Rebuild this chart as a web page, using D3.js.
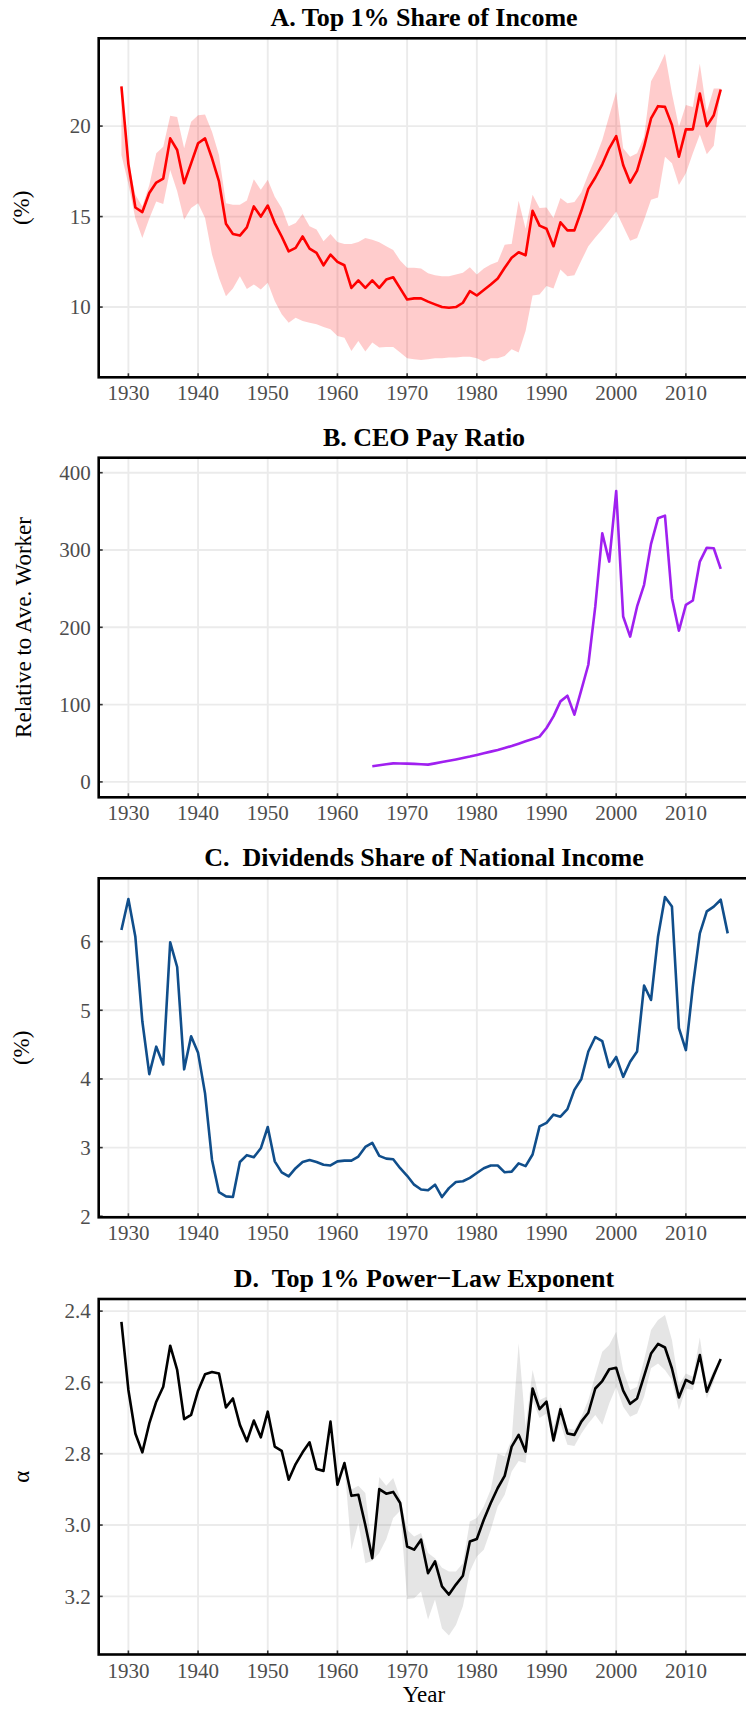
<!DOCTYPE html>
<html>
<head>
<meta charset="utf-8">
<script src="https://cdn.jsdelivr.net/npm/d3@7"></script>
<style>
  body { margin: 0; background: #fff; }
  svg { display: block; }
  text { font-family: "Liberation Serif", "Times New Roman", serif; }
</style>
</head>
<body>
<svg id="chart" width="746" height="1709"></svg>
<script>
// ---------------- DATA ----------------
const yearsA = [1929,1930,1931,1932,1933,1934,1935,1936,1937,1938,1939,1940,1941,1942,1943,1944,1945,1946,1947,1948,1949,1950,1951,1952,1953,1954,1955,1956,1957,1958,1959,1960,1961,1962,1963,1964,1965,1966,1967,1968,1969,1970,1971,1972,1973,1974,1975,1976,1977,1978,1979,1980,1981,1982,1983,1984,1985,1986,1987,1988,1989,1990,1991,1992,1993,1994,1995,1996,1997,1998,1999,2000,2001,2002,2003,2004,2005,2006,2007,2008,2009,2010,2011,2012,2013,2014,2015];
const top1Share = [22.2,17.9,15.5,15.25,16.3,16.88,17.1,19.32,18.68,16.84,17.94,19.05,19.32,18.22,16.94,14.6,14.04,13.95,14.4,15.56,15.0,15.61,14.64,13.9,13.08,13.27,13.9,13.23,12.99,12.31,12.9,12.5,12.31,11.06,11.47,11.06,11.47,11.06,11.52,11.65,11.03,10.42,10.48,10.48,10.3,10.15,10.0,9.96,10.0,10.24,10.88,10.64,10.94,11.25,11.58,12.17,12.72,13.03,12.86,15.32,14.5,14.33,13.36,14.68,14.24,14.24,15.32,16.53,17.16,17.89,18.77,19.45,17.85,16.88,17.54,18.86,20.42,21.1,21.06,20.06,18.31,19.82,19.82,21.8,20.0,20.6,22.02];
const top1Upper = [22.3,18.0,16.2,15.56,16.75,18.5,18.86,20.57,20.5,18.77,20.24,20.6,20.64,19.69,18.4,15.74,15.65,15.65,15.89,17.06,16.48,17.03,16.1,15.47,14.46,14.64,15.14,14.46,14.28,13.63,14.04,13.6,13.49,13.49,13.6,13.82,13.72,13.58,13.36,13.16,12.57,12.17,12.17,12.13,11.87,11.76,11.7,11.7,11.8,11.89,12.2,11.8,12.13,12.35,12.5,13.45,13.49,15.87,14.33,16.2,15.47,15.5,14.92,16.02,15.74,15.8,16.35,17.34,18.22,19.23,20.57,21.89,18.77,18.31,18.5,19.41,22.48,23.17,24.0,21.8,19.96,21.16,21.06,23.45,20.79,22.07,22.07];
const top1Lower = [18.4,16.8,14.9,13.82,14.9,15.83,15.7,17.58,16.4,14.83,15.47,15.74,14.92,12.9,11.61,10.6,11.03,11.7,11.0,11.25,10.97,11.34,10.33,9.6,9.14,9.41,9.23,9.14,9.05,8.9,8.77,8.4,8.31,7.58,8.13,7.54,8.04,7.76,7.8,7.8,7.49,7.17,7.12,7.08,7.12,7.17,7.17,7.21,7.21,7.25,7.25,7.17,6.99,7.17,7.17,7.3,7.67,7.49,8.68,10.64,10.7,11.16,11.03,12.07,11.7,11.76,12.57,13.36,13.85,14.28,14.77,15.28,14.46,13.67,13.82,14.83,15.93,16.06,18.31,17.94,16.75,17.39,18.5,19.54,18.44,18.92,21.98];

const yearsB = [1965,1966,1967,1968,1969,1970,1971,1972,1973,1974,1975,1976,1977,1978,1979,1980,1981,1982,1983,1984,1985,1986,1987,1988,1989,1990,1991,1992,1993,1994,1995,1996,1997,1998,1999,2000,2001,2002,2003,2004,2005,2006,2007,2008,2009,2010,2011,2012,2013,2014,2015];
const ceoRatio = [20.2,21.5,22.8,24.0,23.8,23.6,23.3,22.8,22.4,24.0,25.8,27.4,29.1,31.0,32.8,34.9,37.0,39.2,41.4,43.9,46.5,49.5,52.5,55.5,58.6,69.8,84.8,104.2,111.5,87.0,119.0,151.6,227.0,321.6,285.0,376.3,214.0,188.0,227.0,255.0,307.9,341.0,344.5,237.7,195.5,229.0,234.7,285.0,303.0,302.3,275.6];

const yearsC = [1929,1930,1931,1932,1933,1934,1935,1936,1937,1938,1939,1940,1941,1942,1943,1944,1945,1946,1947,1948,1949,1950,1951,1952,1953,1954,1955,1956,1957,1958,1959,1960,1961,1962,1963,1964,1965,1966,1967,1968,1969,1970,1971,1972,1973,1974,1975,1976,1977,1978,1979,1980,1981,1982,1983,1984,1985,1986,1987,1988,1989,1990,1991,1992,1993,1994,1995,1996,1997,1998,1999,2000,2001,2002,2003,2004,2005,2006,2007,2008,2009,2010,2011,2012,2013,2014,2015,2016];
const dividendShare = [6.17,6.62,6.07,4.84,4.07,4.47,4.21,5.99,5.63,4.14,4.62,4.38,3.79,2.82,2.35,2.29,2.28,2.79,2.89,2.86,2.99,3.30,2.80,2.64,2.58,2.70,2.79,2.82,2.79,2.75,2.74,2.80,2.81,2.81,2.87,3.01,3.07,2.88,2.84,2.83,2.70,2.59,2.46,2.39,2.38,2.46,2.28,2.41,2.50,2.51,2.56,2.63,2.70,2.74,2.74,2.64,2.65,2.77,2.73,2.90,3.31,3.36,3.48,3.45,3.56,3.84,4.00,4.40,4.61,4.55,4.17,4.32,4.03,4.25,4.40,5.36,5.15,6.07,6.65,6.51,4.74,4.42,5.35,6.12,6.44,6.51,6.61,6.12];

const yearsD = yearsA;
const alphaExp = [2.43,2.621,2.743,2.796,2.715,2.654,2.612,2.497,2.565,2.703,2.691,2.623,2.577,2.571,2.575,2.670,2.645,2.719,2.765,2.707,2.754,2.682,2.78,2.792,2.873,2.829,2.796,2.768,2.843,2.848,2.71,2.887,2.826,2.918,2.915,3.0,3.093,2.899,2.912,2.907,2.938,3.06,3.069,3.041,3.135,3.102,3.172,3.195,3.167,3.142,3.046,3.039,2.985,2.938,2.896,2.862,2.78,2.747,2.794,2.617,2.675,2.654,2.763,2.675,2.743,2.747,2.71,2.685,2.617,2.596,2.563,2.559,2.623,2.66,2.645,2.582,2.519,2.492,2.502,2.561,2.642,2.593,2.603,2.523,2.626,2.579,2.534];
const yearsDBand = [1960,1961,1962,1963,1964,1965,1966,1967,1968,1969,1970,1971,1972,1973,1974,1975,1976,1977,1978,1979,1980,1981,1982,1983,1984,1985,1986,1987,1988,1989,1990,1991,1992,1993,1994,1995,1996,1997,1998,1999,2000,2001,2002,2003,2004,2005,2006,2007,2008,2009,2010,2011,2012,2013,2014,2015];
const alphaLow = [2.887,2.82,2.9,2.89,2.91,3.075,2.865,2.89,2.868,2.925,3.013,3.032,3.022,3.078,3.093,3.12,3.13,3.13,3.107,2.99,2.98,2.948,2.9,2.8,2.807,2.76,2.49,2.724,2.565,2.649,2.64,2.724,2.659,2.729,2.733,2.696,2.649,2.58,2.514,2.495,2.458,2.565,2.621,2.612,2.537,2.453,2.425,2.411,2.481,2.607,2.575,2.584,2.474,2.607,2.565,2.534];
const alphaHigh = [2.887,2.83,3.069,2.994,3.107,3.1,3.078,3.04,2.98,2.96,3.207,3.205,3.186,3.265,3.209,3.29,3.31,3.28,3.228,3.13,3.088,3.069,3.013,2.948,2.915,2.85,2.82,2.826,2.649,2.7,2.687,2.771,2.715,2.775,2.778,2.743,2.715,2.691,2.719,2.659,2.612,2.668,2.696,2.687,2.64,2.56,2.547,2.565,2.593,2.677,2.617,2.621,2.542,2.645,2.598,2.534];

const xTicks = [1930,1940,1950,1960,1970,1980,1990,2000,2010];
const ticksA = [10,15,20];
const ticksB = [0,100,200,300,400];
const ticksC = [2,3,4,5,6];
const ticksD = [2.4,2.6,2.8,3.0,3.2];
const labelsD = ["2.4","2.6","2.8","3.0","3.2"];

// ---------------- DRAWING ----------------
const svg = d3.select("#chart");
const left = 98.7, right = 749.3;
const x = d3.scaleLinear().domain([1925.74, 2019.1]).range([left, right]);

const panels = [
  { title: "A. Top 1% Share of Income", ylab: "(%)", top: 38.3, bottom: 377.3,
    dom: [6.12, 24.85], ticks: ticksA, labels: ticksA.map(String),
    band: { years: yearsA, lo: top1Lower, hi: top1Upper, fill: "#ff0000", op: 0.2 },
    line: { years: yearsA, vals: top1Share, color: "#ff0000" } },
  { title: "B. CEO Pay Ratio", ylab: "Relative to Ave. Worker", top: 457.7, bottom: 797.3,
    dom: [-19.9, 419.4], ticks: ticksB, labels: ticksB.map(String),
    line: { years: yearsB, vals: ceoRatio, color: "#a020f0" } },
  { title: "C.  Dividends Share of National Income", ylab: "(%)", top: 878.3, bottom: 1217.3,
    dom: [1.985, 6.922], ticks: ticksC, labels: ticksC.map(String),
    line: { years: yearsC, vals: dividendShare, color: "#104e8b" } },
  { title: "D.  Top 1% Power\u2212Law Exponent", ylab: "\u03b1", top: 1299, bottom: 1654.5,
    dom: [3.363, 2.366], ticks: ticksD, labels: labelsD,
    band: { years: yearsDBand, lo: alphaLow, hi: alphaHigh, fill: "#7f7f7f", op: 0.2 },
    line: { years: yearsD, vals: alphaExp, color: "#000000" } }
];

panels.forEach((p, i) => {
  const g = svg.append("g");
  const y = d3.scaleLinear().domain(p.dom).range([p.bottom, p.top]);

  // gridlines
  g.selectAll(".vg").data(xTicks).join("line")
    .attr("x1", d => x(d)).attr("x2", d => x(d))
    .attr("y1", p.top).attr("y2", p.bottom)
    .attr("stroke", "#ebebeb").attr("stroke-width", 1.9);
  g.selectAll(".hg").data(p.ticks).join("line")
    .attr("x1", left).attr("x2", 746)
    .attr("y1", d => y(d)).attr("y2", d => y(d))
    .attr("stroke", "#ebebeb").attr("stroke-width", 1.9);

  // band
  if (p.band) {
    const bd = p.band.years.map((yr, k) => ({ yr, lo: p.band.lo[k], hi: p.band.hi[k] }));
    g.append("path").datum(bd)
      .attr("d", d3.area().x(d => x(d.yr)).y0(d => y(d.lo)).y1(d => y(d.hi)))
      .attr("fill", p.band.fill).attr("fill-opacity", p.band.op);
  }

  // line
  const ld = p.line.years.map((yr, k) => ({ yr, v: p.line.vals[k] }));
  g.append("path").datum(ld)
    .attr("d", d3.line().x(d => x(d.yr)).y(d => y(d.v)))
    .attr("fill", "none").attr("stroke", p.line.color)
    .attr("stroke-width", 2.6).attr("stroke-linejoin", "round");

  // ticks (inside)
  g.selectAll(".xt").data(xTicks).join("line")
    .attr("x1", d => x(d)).attr("x2", d => x(d))
    .attr("y1", p.bottom).attr("y2", p.bottom - 4)
    .attr("stroke", "#333").attr("stroke-width", 1.6);
  g.selectAll(".yt").data(p.ticks).join("line")
    .attr("x1", left).attr("x2", left + 4)
    .attr("y1", d => y(d)).attr("y2", d => y(d))
    .attr("stroke", "#333").attr("stroke-width", 1.6);

  // panel border
  g.append("rect")
    .attr("x", left).attr("y", p.top)
    .attr("width", right - left).attr("height", p.bottom - p.top)
    .attr("fill", "none").attr("stroke", "#000").attr("stroke-width", 2.6);

  // tick labels
  g.selectAll(".xl").data(xTicks).join("text")
    .attr("x", d => x(d)).attr("y", p.bottom + 23)
    .attr("text-anchor", "middle").attr("font-size", 21).attr("fill", "#4d4d4d")
    .text(d => d);
  g.selectAll(".yl").data(p.ticks).join("text")
    .attr("x", left - 8).attr("y", d => y(d)).attr("dy", "0.35em")
    .attr("text-anchor", "end").attr("font-size", 21).attr("fill", "#4d4d4d")
    .text((d, k) => p.labels[k]);

  // title
  g.append("text")
    .attr("x", 424).attr("y", p.top - 12)
    .attr("text-anchor", "middle").attr("font-size", 26).attr("font-weight", "bold")
    .attr("fill", "#000").style("white-space", "pre")
    .text(p.title);

  // y axis title
  const cy = (p.top + p.bottom) / 2;
  g.append("text")
    .attr("transform", `translate(${p.ylab === "Relative to Ave. Worker" ? 31 : 29},${cy}) rotate(-90)`)
    .attr("text-anchor", "middle").attr("font-size", 23).attr("fill", "#000")
    .text(p.ylab);

  if (i === panels.length - 1) {
    g.append("text")
      .attr("x", 424).attr("y", 1702)
      .attr("text-anchor", "middle").attr("font-size", 23).attr("fill", "#000")
      .text("Year");
  }
});
</script>
</body>
</html>
